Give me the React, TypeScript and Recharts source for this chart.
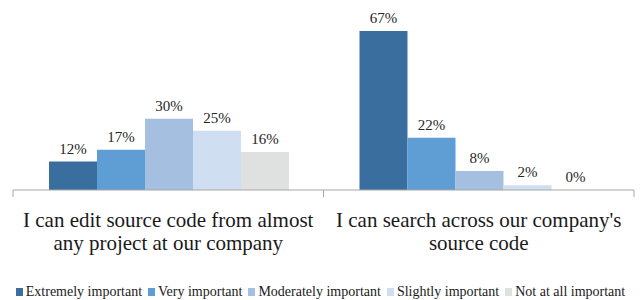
import React from 'react';
import { BarChart, Bar, XAxis, YAxis, Legend, LabelList } from 'recharts';

// survey items (x categories), each split into its two display lines
const categories = [
  'I can edit source code from almost any project at our company',
  "I can search across our company's source code",
];
const categoryLines = [
  ['I can edit source code from almost', 'any project at our company'],
  ["I can search across our company's", 'source code'],
];

// percent of respondents per answer
const extremely = [12, 67];
const very = [17, 22];
const moderately = [30, 8];
const slightly = [25, 2];
const notAtAll = [16, 0];

const series = [
  { key: 'extremely', name: 'Extremely important', values: extremely, color: '#3a6e9f' },
  { key: 'very', name: 'Very important', values: very, color: '#5f9dd5' },
  { key: 'moderately', name: 'Moderately important', values: moderately, color: '#a4bfdf' },
  { key: 'slightly', name: 'Slightly important', values: slightly, color: '#cfdff1' },
  { key: 'notAtAll', name: 'Not at all important', values: notAtAll, color: '#dfe0e0' },
];

const data = categories.map((c, i) => {
  const row: Record<string, string | number> = { category: c };
  series.forEach((s) => {
    row[s.key] = s.values[i];
  });
  return row;
});

const W = 642;
const H = 300;
const margin = { top: 0, right: 8, left: 13, bottom: 0 };
const FONT = 'Liberation Serif, Times New Roman, DejaVu Serif';
const band = (W - margin.left - margin.right) / categories.length;

function CategoryTick(props: any) {
  const { x, y, index } = props;
  const lines = categoryLines[index] || [];
  return (
    <g>
      <line x1={x - band / 2} x2={x - band / 2} y1={y} y2={y + 7} stroke="#a6a6a6" />
      {index === categories.length - 1 && (
        <line x1={x + band / 2} x2={x + band / 2} y1={y} y2={y + 7} stroke="#a6a6a6" />
      )}
      {lines.map((l: string, i: number) => (
        <text
          key={i}
          x={x}
          y={y + 37 + i * 23}
          textAnchor="middle"
          fill="#1a1a1a"
          style={{ fontFamily: FONT, fontSize: 21 }}
        >
          {l}
        </text>
      ))}
    </g>
  );
}

function ValueLabel(props: any) {
  const { x, y, width, value } = props;
  return (
    <text
      x={x + width / 2}
      y={y - 8}
      textAnchor="middle"
      fill="#262626"
      style={{ fontFamily: FONT, fontSize: 15 }}
    >
      {`${value}%`}
    </text>
  );
}

function LegendContent() {
  return (
    <div
      style={{
        display: 'flex',
        justifyContent: 'center',
        alignItems: 'center',
        paddingTop: 24,
        fontFamily: FONT,
        fontSize: 14,
        color: '#1a1a1a',
        lineHeight: '16px',
      }}
    >
      {series.map((s) => (
        <span key={s.key} style={{ display: 'flex', alignItems: 'center', marginRight: 6 }}>
          <span style={{ width: 7, height: 8, background: s.color, marginRight: 3, display: 'inline-block' }} />
          {s.name}
        </span>
      ))}
    </div>
  );
}

export default function App() {
  return (
    <div style={{ position: 'absolute', left: 0, top: 0, background: '#fff', fontFamily: FONT }}>
      <BarChart
        width={W}
        height={H}
        data={data}
        margin={margin}
        barCategoryGap={36}
        barGap={0}
      >
        <XAxis
          dataKey="category"
          axisLine={{ stroke: '#a6a6a6' }}
          tickLine={false}
          tickSize={0}
          tickMargin={0}
          height={70}
          interval={0}
          tick={<CategoryTick />}
        />
        <YAxis hide domain={[0, 80]} />
        <Legend verticalAlign="bottom" height={40} content={<LegendContent />} />
        {series.map((s) => (
          <Bar
            key={s.key}
            dataKey={s.key}
            name={s.name}
            fill={s.color}
            minPointSize={0.01}
            isAnimationActive={false}
          >
            <LabelList dataKey={s.key} content={<ValueLabel />} />
          </Bar>
        ))}
      </BarChart>
    </div>
  );
}
